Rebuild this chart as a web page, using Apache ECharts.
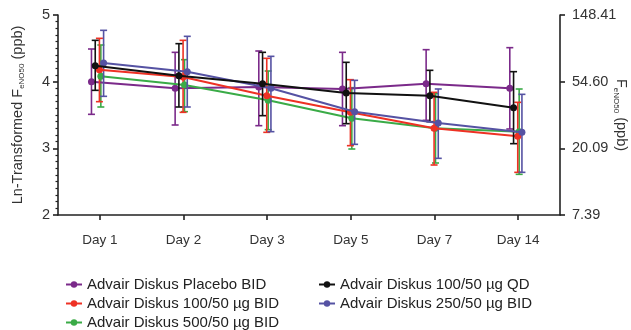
<!DOCTYPE html>
<html><head><meta charset="utf-8">
<script src="https://cdn.jsdelivr.net/npm/echarts@6/dist/echarts.min.js"></script>
<style>html,body{margin:0;padding:0;background:#fff}#c{width:631px;height:330px}</style>
</head><body><div id="c"></div>
<script>
const days = ['Day 1','Day 2','Day 3','Day 5','Day 7','Day 14'];
const leftTicks = [2,3,4,5];

const placeboMean  = [4.00, 3.90, 3.92, 3.89, 3.97, 3.90];
const placeboUpper = [4.49, 4.44, 4.46, 4.44, 4.48, 4.51];
const placeboLower = [3.51, 3.35, 3.34, 3.34, 3.42, 3.29];

const qd100Mean  = [4.24, 4.09, 3.97, 3.83, 3.79, 3.61];
const qd100Upper = [4.62, 4.57, 4.44, 4.29, 4.17, 4.15];
const qd100Lower = [3.87, 3.62, 3.49, 3.37, 3.40, 3.07];

const bid100Mean  = [4.18, 4.07, 3.79, 3.54, 3.30, 3.18];
const bid100Upper = [4.65, 4.62, 4.35, 4.03, 3.84, 3.69];
const bid100Lower = [3.70, 3.54, 3.24, 3.04, 2.75, 2.64];

const bid250Mean  = [4.28, 4.15, 3.90, 3.55, 3.38, 3.24];
const bid250Upper = [4.77, 4.68, 4.38, 4.02, 3.89, 3.81];
const bid250Lower = [3.78, 3.62, 3.25, 3.06, 2.85, 2.64];

const bid500Mean  = [4.08, 3.95, 3.72, 3.45, 3.30, 3.25];
const bid500Upper = [4.55, 4.33, 4.16, 3.91, 3.82, 3.89];
const bid500Lower = [3.62, 3.55, 3.28, 2.99, 2.78, 2.61];

const names = {
  placebo: 'Advair Diskus Placebo BID',
  bid100: 'Advair Diskus 100/50 µg BID',
  bid500: 'Advair Diskus 500/50 µg BID',
  qd100: 'Advair Diskus 100/50 µg QD',
  bid250: 'Advair Diskus 250/50 µg BID'
};

// styling: colour and horizontal dodge within each day
const groups = [
  {key:'placebo', mean:placeboMean, up:placeboUpper, lo:placeboLower, color:'#7b2a8a', dodge:-0.10, z:2},
  {key:'bid500', mean:bid500Mean, up:bid500Upper, lo:bid500Lower, color:'#3aab47', dodge:0.012, z:3},
  {key:'bid100', mean:bid100Mean, up:bid100Upper, lo:bid100Lower, color:'#ee3124', dodge:-0.005, z:4},
  {key:'bid250', mean:bid250Mean, up:bid250Upper, lo:bid250Lower, color:'#5552a3', dodge:0.045, z:5},
  {key:'qd100', mean:qd100Mean, up:qd100Upper, lo:qd100Lower, color:'#111111', dodge:-0.055, z:6}
];

const series = [];
groups.forEach(g => {
  series.push({
    name: names[g.key] + ' (error)', type: 'custom', z: g.z, silent: true,
    xAxisIndex: 0, yAxisIndex: 0,
    itemStyle: {color: g.color},
    data: g.mean.map((_, i) => [i + g.dodge, g.lo[i], g.up[i]]),
    encode: {x: 0, y: [1, 2]},
    renderItem: function (params, api) {
      const x = api.value(0);
      const a = api.coord([x, api.value(1)]);
      const b = api.coord([x, api.value(2)]);
      const w = 3.5;
      const st = {stroke: g.color, lineWidth: 1.6, fill: null};
      return {type: 'group', children: [
        {type: 'line', shape: {x1: a[0], y1: a[1], x2: b[0], y2: b[1]}, style: st},
        {type: 'line', shape: {x1: a[0]-w, y1: a[1], x2: a[0]+w, y2: a[1]}, style: st},
        {type: 'line', shape: {x1: b[0]-w, y1: b[1], x2: b[0]+w, y2: b[1]}, style: st}
      ]};
    }
  });
  series.push({
    name: names[g.key], type: 'line', z: g.z + 1,
    xAxisIndex: 0, yAxisIndex: 0,
    data: g.mean.map((v, i) => [i + g.dodge, v]),
    symbol: 'circle', symbolSize: 7,
    lineStyle: {color: g.color, width: 2},
    itemStyle: {color: g.color},
    animation: false
  });
});

const font = 'Liberation Sans, Arial, sans-serif';
const legendText = {fontFamily: font, fontSize: 15, color: '#222', lineHeight: 14};
const chart = echarts.init(document.getElementById('c'));
chart.setOption({
  animation: false,
  backgroundColor: '#fff',
  textStyle: {fontFamily: font},
  grid: {left: 58, right: 71, top: 15, bottom: 115, containLabel: false, outerBoundsMode: 'none'},
  legend: [
    {orient: 'vertical', left: 65, top: 277, height: 80, itemGap: 4, itemWidth: 16, itemHeight: 8, itemTextGap: 6, padding: 0,
     textStyle: legendText,
     data: [names.placebo, names.bid100, names.bid500]},
    {orient: 'vertical', left: 318, top: 277, height: 80, itemGap: 4, itemWidth: 16, itemHeight: 8, itemTextGap: 6, padding: 0,
     textStyle: legendText,
     data: [names.qd100, names.bid250]}
  ],
  xAxis: {
    type: 'value', min: -0.5, max: 5.5,
    splitLine: {show: false},
    axisLine: {show: true, onZero: false, lineStyle: {color: '#222', width: 1.6}},
    axisTick: {show: true, customValues: [0,1,2,3,4,5], length: 5, lineStyle: {color: '#222', width: 1.6}},
    axisLabel: {customValues: [0,1,2,3,4,5], formatter: v => days[Math.round(v)], color: '#333', fontSize: 13.5, margin: 18, fontFamily: font}
  },
  yAxis: [
    {
      type: 'value', min: 2, max: 5, interval: 1, position: 'left',
      name: '{a|Ln-Transformed F}{s|eNO50}{a| (ppb)}',
      nameLocation: 'middle', nameGap: 32, nameRotate: 90, nameMoveOverlap: false,
      nameTextStyle: {rich: {
        a: {fontSize: 14.5, color: '#333', fontFamily: font},
        s: {fontSize: 8, color: '#333', fontFamily: font, padding: [9, 0, 0, 0]}
      }},
      splitLine: {show: false},
      axisLine: {show: true, onZero: false, lineStyle: {color: '#222', width: 1.6}},
      axisTick: {show: true, length: 5, lineStyle: {color: '#222', width: 1.6}},
      minorTick: {show: true, splitNumber: 10, length: 2.5, lineStyle: {color: '#222', width: 1.2}},
      axisLabel: {color: '#333', fontSize: 14.5, margin: 8, fontFamily: font}
    },
    {
      type: 'value', min: 2, max: 5, interval: 1, position: 'right',
      name: '{a|F}{s|eNO50}{a| (ppb)}',
      nameLocation: 'middle', nameGap: 52, nameRotate: -90, nameMoveOverlap: false,
      nameTextStyle: {rich: {
        a: {fontSize: 14.5, color: '#333', fontFamily: font},
        s: {fontSize: 8, color: '#333', fontFamily: font, padding: [9, 0, 0, 0]}
      }},
      splitLine: {show: false},
      axisLine: {show: true, onZero: false, lineStyle: {color: '#222', width: 1.6}},
      axisTick: {show: true, length: 5, lineStyle: {color: '#222', width: 1.6}},
      axisLabel: {color: '#333', fontSize: 14.5, margin: 12, fontFamily: font, formatter: v => Math.exp(v).toFixed(2)}
    }
  ],
  series: series
});
</script>
</body></html>
